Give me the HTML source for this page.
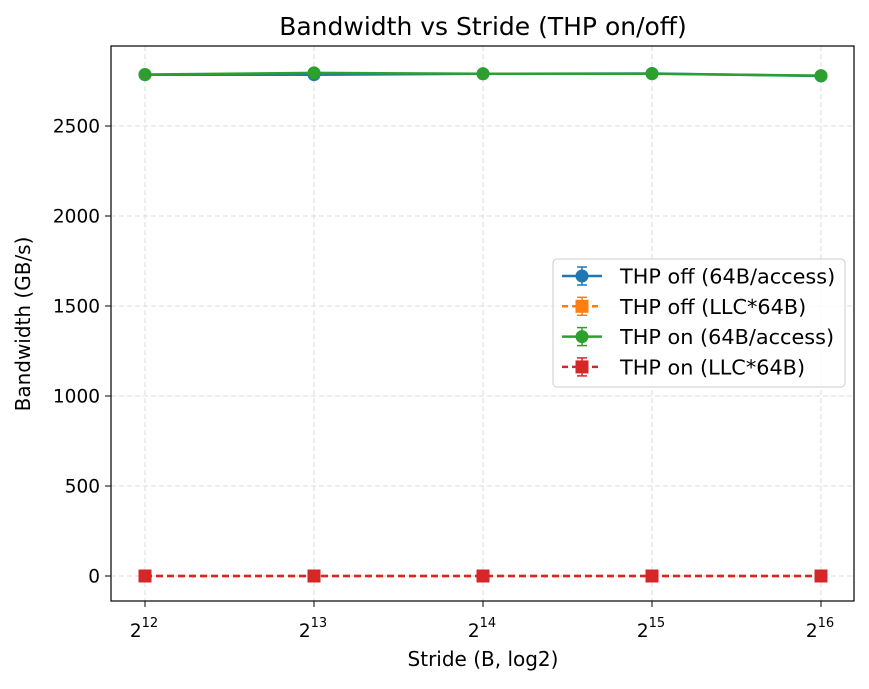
<!DOCTYPE html>
<html><head><meta charset="utf-8"><style>
body{margin:0;background:#fff;}
svg text{font-family:"DejaVu Sans","Liberation Sans",sans-serif;fill:#000;}
</style></head><body>
<svg id="chart" width="869" height="684" xmlns="http://www.w3.org/2000/svg">
<rect width="869" height="684" fill="#fff"/>
<g id="grid"></g>
<g id="series"></g>
<rect x="111" y="46" width="743" height="555" fill="none" stroke="#000" stroke-width="1.2"/>
<g id="axes"></g>
<text x="483" y="35" font-size="25" text-anchor="middle">Bandwidth vs Stride (THP on/off)</text>
<text x="483" y="666" font-size="20" text-anchor="middle">Stride (B, log2)</text>
<text x="30" y="324" font-size="20" text-anchor="middle" transform="rotate(-90 30 324)">Bandwidth (GB/s)</text>
<g id="legend"></g>
</svg>
<script>
const exponents = [12, 13, 14, 15, 16];
const yTicks = [0, 500, 1000, 1500, 2000, 2500];
const offAccess = [2785, 2785, 2790, 2792, 2778];
const offLLC = [0, 0, 0, 0, 0];
const onAccess = [2786, 2795, 2790, 2790, 2780];
const onLLC = [0, 0, 0, 0, 0];
const seriesNames = ["THP off (64B/access)", "THP off (LLC*64B)", "THP on (64B/access)", "THP on (LLC*64B)"];

const NS = "http://www.w3.org/2000/svg";
function xs(e){ return 145 + (e - 12) * 169; }
function ys(v){ return 576 - v * 0.18; }
function mk(tag, attrs, parent){ const el = document.createElementNS(NS, tag); for (const k in attrs) el.setAttribute(k, attrs[k]); parent.appendChild(el); return el; }
const grid = document.getElementById('grid'), axes = document.getElementById('axes'), ser = document.getElementById('series'), leg = document.getElementById('legend');

exponents.forEach(e => {
  const x = xs(e);
  const g = mk('line', {x1:x, x2:x, y1:46, y2:601, stroke:'#ddd', 'stroke-dasharray':'5,3', 'stroke-width':1}, grid);
  
  
  const t = mk('line', {x1:x, x2:x, y1:601, y2:607, stroke:'#000'}, axes);
  
  
  const lb = mk('text', {x:x - 1, y:637, 'font-size':18.5, 'text-anchor':'middle'}, axes);
  
  
  lb.textContent = '2';
  const sp = mk('tspan', {dy:-10, 'font-size':13}, lb);
  sp.textContent = String(e);
});
yTicks.forEach(v => {
  const y = ys(v);
  const g = mk('line', {x1:111, x2:854, y1:y, y2:y, stroke:'#ddd', 'stroke-dasharray':'5,3', 'stroke-width':1}, grid);
  
  
  const t = mk('line', {x1:105, x2:111, y1:y, y2:y, stroke:'#000'}, axes);
  
  
  const lb = mk('text', {x:100, y:y + 6.5, 'font-size':18.5, 'text-anchor':'end'}, axes);
  
  
  lb.textContent = String(v);
});

const styles = [
  {data: offAccess, color:'#1f77b4', dash:'', marker:'circle'},
  {data: offLLC, color:'#ff7f0e', dash:'7,4', marker:'square'},
  {data: onAccess, color:'#2ca02c', dash:'', marker:'circle'},
  {data: onLLC, color:'#d62728', dash:'7,4', marker:'square'}
];
function marker(type, x, y, color, parent){
  let m;
  if (type === 'circle') m = mk('circle', {cx:x, cy:y, r:6.5, fill:color}, parent);
  else m = mk('rect', {x:x - 6.5, y:y - 6.5, width:13, height:13, fill:color}, parent);
  return m;
}
styles.forEach((s, i) => {
  const pts = s.data.map((v, j) => xs(exponents[j]) + ',' + ys(v)).join(' ');
  const pl = mk('polyline', {points:pts, fill:'none', stroke:s.color, 'stroke-width':2.5, 'stroke-dasharray':s.dash}, ser);
  
  
  s.data.forEach((v, j) => {
    const m = marker(s.marker, xs(exponents[j]), ys(v), s.color, ser);
    
    
  });
});

const lb = mk('rect', {x:553, y:259, width:292, height:128, rx:4, fill:'#fff', 'fill-opacity':0.85, stroke:'#ccc'}, leg);


styles.forEach((s, i) => {
  const y = 276 + i * 30.3;
  const g = mk('g', {}, leg);
  
  
  mk('line', {x1:562, x2:602, y1:y, y2:y, stroke:s.color, 'stroke-width':2.5, 'stroke-dasharray':s.dash ? '6,4' : ''}, g);
  mk('line', {x1:582, x2:582, y1:y - 9, y2:y + 9, stroke:s.color, 'stroke-width':1.5}, g);
  mk('line', {x1:577, x2:587, y1:y - 9, y2:y - 9, stroke:s.color, 'stroke-width':1.5}, g);
  mk('line', {x1:577, x2:587, y1:y + 9, y2:y + 9, stroke:s.color, 'stroke-width':1.5}, g);
  marker(s.marker, 582, y, s.color, g);
  const t = mk('text', {x:620, y:y + 7.5, 'font-size':20.8}, g);
  t.textContent = seriesNames[i];
});
</script>
</body></html>
